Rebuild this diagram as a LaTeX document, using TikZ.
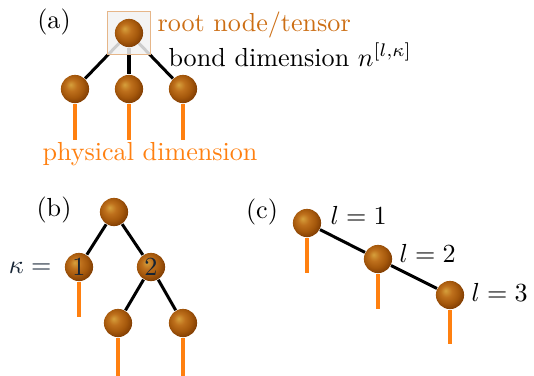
\documentclass[tikz,border=0pt]{standalone}
\usepackage{amsmath,amssymb}
\usetikzlibrary{backgrounds}
\definecolor{ballhi}{RGB}{214,160,60}
\definecolor{ballmid}{RGB}{190,112,28}
\definecolor{balllo}{RGB}{165,88,12}
\definecolor{balledge}{RGB}{132,64,4}
\definecolor{rootorange}{RGB}{204,110,20}
\definecolor{legorange}{RGB}{255,128,16}
\definecolor{labelink}{RGB}{22,36,52}
\pgfdeclareradialshading{tensorball}{\pgfpoint{-8bp}{8bp}}{color(0bp)=(ballhi); color(10bp)=(ballmid); color(20bp)=(balllo); color(28bp)=(balledge); color(50bp)=(balledge)}

\begin{document}
\begin{tikzpicture}[x=0.383pt,y=-0.383pt,
  tensor/.style={circle,shading=tensorball,minimum size=10.8pt,inner sep=0pt,
    text=labelink},
  tag/.style={inner sep=0pt},
  bond/.style={black,line width=1.15pt},
  leg/.style={legorange,line width=1.2pt},
  rootbox/.style={draw=rootorange!50,line width=0.6pt,fill=gray!10,fill opacity=0.85,
    minimum size=16.5pt,inner sep=0pt}]
\useasboundingbox (0,0) rectangle (534,376);

% ---- (a) one root, three children -------------------------------------
\node (la) at (54,22) {(a)};
\node[tensor] (ar) at (129,33) {};
\node[tensor] (a1) at (75,89)  {};
\node[tensor] (a2) at (129,89) {};
\node[tensor] (a3) at (183,89) {};
\coordinate (a1e) at (75,140);
\coordinate (a2e) at (129,140);
\coordinate (a3e) at (183,140);
\node[tag,text=rootorange,anchor=base west] (troot) at (157,31) {root node/tensor};
\node[tag,anchor=base west] (tbond) at (168,66) {bond dimension $n^{[l,\kappa]}$};
\node[tag,text=legorange,anchor=base] (tphys) at (150,160) {physical dimension};

% ---- (b) two layers ----------------------------------------------------
\node (lb) at (54,210) {(b)};
\node[tensor] (br)  at (114,212) {};
\node[tensor] (b1)  at (79,267)  {1};
\node[tensor] (b2)  at (151,267) {2};
\node[tensor] (b21) at (118,323) {};
\node[tensor] (b22) at (183,323) {};
\coordinate (b1e)  at (79,317);
\coordinate (b21e) at (118,376);
\coordinate (b22e) at (183,376);
\node[tag,text=labelink,anchor=east] (tkappa) at (52,268) {$\kappa=$};

% ---- (c) a chain -------------------------------------------------------
\node (lc) at (262,212) {(c)};
\node[tensor] (c1) at (307,223) {};
\node[tensor] (c2) at (378,259) {};
\node[tensor] (c3) at (450,295) {};
\coordinate (c1e) at (307,273);
\coordinate (c2e) at (378,309);
\coordinate (c3e) at (450,344);
\node[tag,anchor=west] (tl1) at (330,215) {$l=1$};
\node[tag,anchor=west] (tl2) at (399,253) {$l=2$};
\node[tag,anchor=west] (tl3) at (471,292) {$l=3$};

% ---- bonds and legs behind the balls -----------------------------------
\begin{scope}[on background layer]
  \draw[bond] (ar) -- (a1);
  \draw[bond] (ar) -- (a2);
  \draw[bond] (ar) -- (a3);
  \draw[bond] (br) -- (b1);
  \draw[bond] (br) -- (b2);
  \draw[bond] (b2) -- (b21);
  \draw[bond] (b2) -- (b22);
  \draw[bond] (c1) -- (c2);
  \draw[bond] (c2) -- (c3);
  \draw[leg] (a1) -- (a1e);
  \draw[leg] (a2) -- (a2e);
  \draw[leg] (a3) -- (a3e);
  \draw[leg] (b1) -- (b1e);
  \draw[leg] (b21) -- (b21e);
  \draw[leg] (b22) -- (b22e);
  \draw[leg] (c1) -- (c1e);
  \draw[leg] (c2) -- (c2e);
  \draw[leg] (c3) -- (c3e);
  \node[rootbox] (abox) at (ar) {};
\end{scope}
\end{tikzpicture}
\end{document}
